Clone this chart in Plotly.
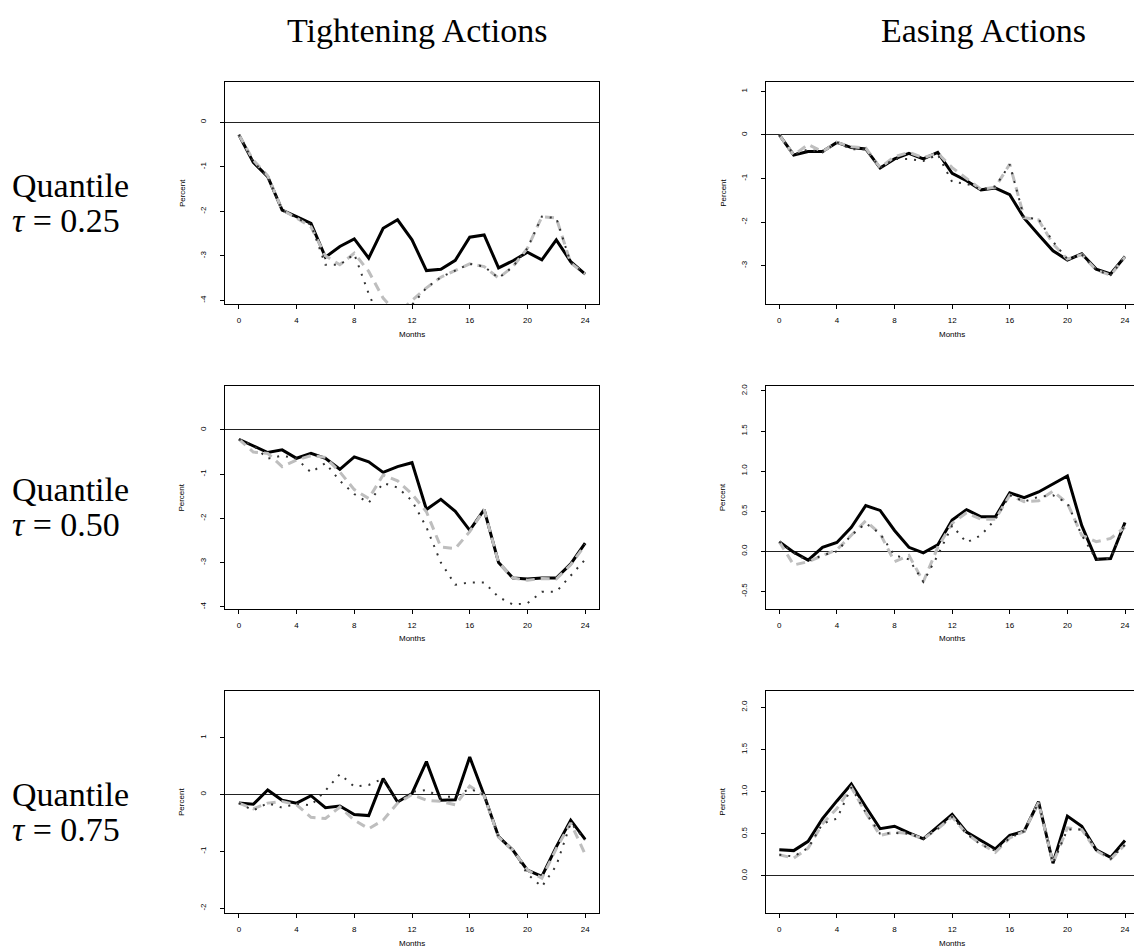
import plotly.graph_objects as go

months = list(range(25))

# Tightening, tau = 0.25
t25_solid = [-0.28,-0.90,-1.22,-1.97,-2.12,-2.27,-3.03,-2.79,-2.62,-3.05,-2.38,-2.19,-2.64,-3.33,-3.30,-3.10,-2.58,-2.53,-3.27,-3.11,-2.92,-3.09,-2.64,-3.13,-3.41]
t25_dash  = [-0.28,-0.85,-1.20,-1.97,-2.15,-2.35,-3.00,-3.20,-2.94,-3.35,-3.95,-4.30,-4.00,-3.72,-3.48,-3.33,-3.18,-3.24,-3.50,-3.24,-2.83,-2.12,-2.15,-3.16,-3.41]
t25_dot   = [-0.28,-0.88,-1.22,-1.97,-2.15,-2.30,-3.20,-3.20,-2.96,-3.85,-4.60,-4.60,-4.10,-3.72,-3.48,-3.33,-3.18,-3.24,-3.50,-3.24,-2.83,-2.12,-2.15,-3.16,-3.41]

# Easing, tau = 0.25
e25_solid = [0.00,-0.46,-0.38,-0.38,-0.17,-0.29,-0.32,-0.76,-0.55,-0.42,-0.55,-0.40,-0.88,-1.05,-1.26,-1.22,-1.37,-1.91,-2.29,-2.66,-2.87,-2.73,-3.08,-3.19,-2.79]
e25_dash  = [0.00,-0.46,-0.22,-0.38,-0.17,-0.27,-0.30,-0.75,-0.50,-0.40,-0.52,-0.42,-0.75,-1.00,-1.25,-1.20,-0.67,-1.90,-1.95,-2.50,-2.85,-2.75,-3.10,-3.22,-2.80]
e25_dot   = [0.00,-0.45,-0.33,-0.40,-0.17,-0.33,-0.33,-0.75,-0.55,-0.55,-0.60,-0.45,-1.08,-1.12,-1.25,-1.18,-0.68,-1.90,-1.93,-2.45,-2.85,-2.75,-3.10,-3.22,-2.80]

# Tightening, tau = 0.50
t50_solid = [-0.21,-0.36,-0.51,-0.45,-0.64,-0.53,-0.64,-0.89,-0.61,-0.72,-0.96,-0.83,-0.74,-1.80,-1.57,-1.84,-2.27,-1.80,-3.00,-3.35,-3.37,-3.35,-3.35,-3.03,-2.56]
t50_dash  = [-0.21,-0.50,-0.53,-0.83,-0.68,-0.58,-0.62,-0.95,-1.35,-1.55,-1.02,-1.15,-1.45,-1.85,-2.65,-2.68,-2.30,-1.80,-3.00,-3.35,-3.40,-3.36,-3.37,-3.05,-2.60]
t50_dot   = [-0.21,-0.35,-0.65,-0.58,-0.65,-0.96,-0.75,-1.15,-1.45,-1.65,-1.20,-1.30,-1.60,-2.20,-3.00,-3.50,-3.45,-3.45,-3.78,-3.95,-3.92,-3.66,-3.66,-3.30,-2.93]

# Easing, tau = 0.50
e50_solid = [0.12,-0.01,-0.11,0.05,0.11,0.30,0.57,0.51,0.26,0.05,-0.02,0.08,0.39,0.52,0.43,0.43,0.73,0.67,0.74,0.84,0.94,0.32,-0.10,-0.09,0.36]
e50_dash  = [0.12,-0.17,-0.13,-0.05,0.02,0.20,0.38,0.22,-0.13,-0.05,-0.38,0.05,0.35,0.48,0.40,0.40,0.70,0.62,0.63,0.75,0.60,0.20,0.12,0.16,0.30]
e50_dot   = [0.12,-0.02,-0.12,-0.05,0.00,0.20,0.35,0.22,-0.05,-0.10,-0.38,-0.05,0.32,0.11,0.20,0.40,0.70,0.62,0.68,0.70,0.60,0.20,-0.10,-0.09,0.34]

# Tightening, tau = 0.75
t75_solid = [-0.15,-0.17,0.08,-0.10,-0.15,-0.02,-0.23,-0.20,-0.35,-0.37,0.28,-0.13,0.02,0.58,-0.10,-0.09,0.66,-0.01,-0.74,-0.98,-1.33,-1.44,-0.92,-0.45,-0.79]
t75_dash  = [-0.15,-0.25,-0.15,-0.12,-0.18,-0.40,-0.42,-0.22,-0.45,-0.60,-0.45,-0.15,0.00,-0.10,-0.12,-0.18,0.15,-0.02,-0.75,-0.98,-1.33,-1.47,-0.95,-0.50,-1.05]
t75_dot   = [-0.15,-0.28,-0.15,-0.23,-0.16,-0.19,0.07,0.36,0.14,0.17,0.28,-0.13,0.05,0.08,-0.05,-0.03,0.10,0.00,-0.75,-0.98,-1.40,-1.62,-1.25,-0.50,-0.80]

# Easing, tau = 0.75
e75_solid = [0.31,0.30,0.41,0.68,0.89,1.09,0.82,0.56,0.59,0.51,0.44,0.58,0.73,0.52,0.42,0.32,0.48,0.53,0.88,0.15,0.71,0.59,0.31,0.22,0.42]
e75_dash  = [0.25,0.21,0.33,0.62,0.80,1.05,0.75,0.48,0.52,0.50,0.44,0.56,0.70,0.50,0.38,0.28,0.45,0.53,0.87,0.15,0.57,0.55,0.30,0.20,0.37]
e75_dot   = [0.25,0.23,0.33,0.62,0.68,1.05,0.75,0.50,0.51,0.50,0.44,0.56,0.70,0.50,0.37,0.30,0.45,0.53,0.87,0.15,0.55,0.55,0.32,0.20,0.37]

col_titles = ["Tightening Actions", "Easing Actions"]
row_labels = ["0.25", "0.50", "0.75"]
x_ticks = [0, 4, 8, 12, 16, 20, 24]

ticks_t12 = [0, -1, -2, -3, -4]
ticks_e25 = [1, 0, -1, -2, -3]
ticks_e = [2.0, 1.5, 1.0, 0.5, 0.0, -0.5]
ticks_t75 = [1, 0, -1, -2]

W, H = 1134, 950

def px_x(p):
    return p / W

def px_y(p):
    return 1 - p / H

panels = [
    (0, 0, t25_solid, t25_dash, t25_dot, [-4.09, 0.91], ticks_t12, ["0", "-1", "-2", "-3", "-4"]),
    (0, 1, e25_solid, e25_dash, e25_dot, [-3.89, 1.22], ticks_e25, ["1", "0", "-1", "-2", "-3"]),
    (1, 0, t50_solid, t50_dash, t50_dot, [-4.05, 0.99], ticks_t12, ["0", "-1", "-2", "-3", "-4"]),
    (1, 1, e50_solid, e50_dash, e50_dot, [-0.72, 2.06], ticks_e, ["2.0", "1.5", "1.0", "0.5", "0.0", "-0.5"]),
    (2, 0, t75_solid, t75_dash, t75_dot, [-2.09, 1.83], ticks_t75, ["1", "0", "-1", "-2"]),
    (2, 1, e75_solid, e75_dash, e75_dot, [-0.445, 2.2], ticks_e[:5], ["2.0", "1.5", "1.0", "0.5", "0.0"]),
]

col_px = [(225, 599), (765.7, 1134)]
col_xrange = [[-0.96, 24.96], [-0.944, 24.625]]
row_px = [(80, 303), (385, 608.3), (690, 913.3)]

fig = go.Figure()
layout = dict(
    width=W, height=H,
    margin=dict(l=0, r=0, t=0, b=0),
    paper_bgcolor="white", plot_bgcolor="white",
    showlegend=False,
    annotations=[],
)

sans = "Liberation Sans, Arial, sans-serif"
tickfont = dict(family=sans, size=8, color="black")

for i, (r, c, ys, yd, yt, yr, yticks, ytext) in enumerate(panels):
    n = "" if i == 0 else str(i + 1)
    xa, ya = "x" + n, "y" + n
    fig.add_trace(go.Scatter(x=months, y=ys, mode="lines", xaxis=xa, yaxis=ya,
                             line=dict(color="black", width=3)))
    fig.add_trace(go.Scatter(x=months, y=yd, mode="lines", xaxis=xa, yaxis=ya,
                             line=dict(color="#BEBEBE", width=3, dash="9px,6px")))
    fig.add_trace(go.Scatter(x=months, y=yt, mode="lines", xaxis=xa, yaxis=ya,
                             line=dict(color="#333333", width=2, dash="2px,7px")))
    x0, x1 = col_px[c]
    top, bot = row_px[r]
    layout["xaxis" + n] = dict(
        domain=[px_x(x0), min(1.0, px_x(x1))], anchor=ya,
        range=col_xrange[c], showgrid=False, zeroline=False,
        showline=True, linecolor="black", linewidth=1, mirror=True,
        tickvals=x_ticks, ticks="outside", ticklen=4, tickcolor="black",
        tickfont=tickfont, ticklabelstandoff=4, fixedrange=True,
    )
    layout["yaxis" + n] = dict(
        domain=[px_y(bot), px_y(top)], anchor=xa,
        range=yr, showgrid=False,
        zeroline=True, zerolinecolor="#222222", zerolinewidth=1,
        showline=True, linecolor="black", linewidth=1, mirror=(c == 0),
        tickvals=yticks, ticktext=ytext, tickangle=-90,
        ticks="outside", ticklen=4, tickcolor="black",
        tickfont=tickfont, ticklabelstandoff=11, fixedrange=True,
    )
    layout["annotations"].append(dict(
        text="Percent", xref="paper", yref="paper",
        x=px_x(x0 - 43), y=px_y((top + bot) / 2), textangle=-90,
        showarrow=False, xanchor="center", yanchor="middle",
        font=dict(family=sans, size=8, color="black")))
    xc = (x0 + (x1 if c == 0 else 1138.7)) / 2
    layout["annotations"].append(dict(
        text="Months", xref="paper", yref="paper",
        x=px_x(xc), y=px_y(bot + 30),
        showarrow=False, xanchor="center", yanchor="middle",
        font=dict(family=sans, size=8, color="black")))

serif = dict(family="Liberation Serif, Times New Roman, serif", size=34, color="black")
title_x = [417, 983]
for c, t in enumerate(col_titles):
    layout["annotations"].append(dict(
        text=t, xref="paper", yref="paper", x=px_x(title_x[c]), y=px_y(29),
        showarrow=False, xanchor="center", yanchor="middle", font=serif))

for r, q in enumerate(row_labels):
    base = 305 * r
    layout["annotations"].append(dict(
        text="Quantile", xref="paper", yref="paper", x=px_x(10), y=px_y(184 + base),
        showarrow=False, xanchor="left", yanchor="middle", font=serif))
    layout["annotations"].append(dict(
        text="<i>τ</i> = " + q, xref="paper", yref="paper", x=px_x(10), y=px_y(219 + base),
        showarrow=False, xanchor="left", yanchor="middle", font=serif))

fig.update_layout(**layout)
fig.write_html(
    "out.html",
    config={"displayModeBar": False, "staticPlot": True},
    post_script="document.body.style.margin='0';document.documentElement.style.overflow='hidden';document.body.style.overflow='hidden';",
)
